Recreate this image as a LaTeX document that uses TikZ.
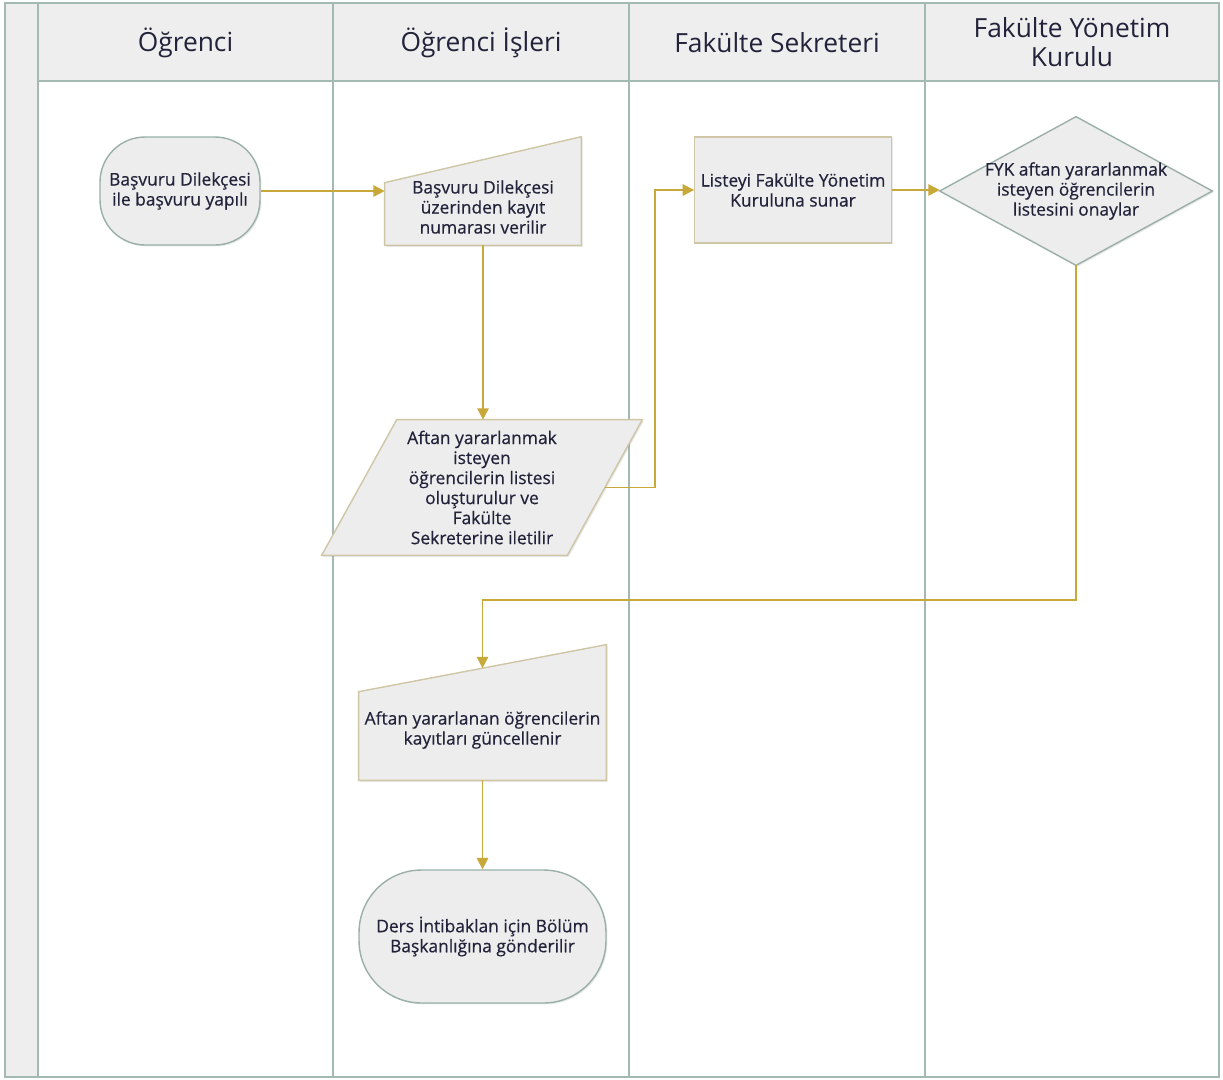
\documentclass[tikz,border=0pt]{standalone}
\usepackage{fontspec}
\setmainfont{Open Sans}
\newfontfamily\nodefont{Open Sans}[FakeBold=0.5]
\usetikzlibrary{calc,arrows.meta,shadows}
\pgfdeclarelayer{lanelayer}
\pgfdeclarelayer{shapelayer}
\pgfsetlayers{lanelayer,shapelayer,main}
\definecolor{lanefill}{HTML}{EEEEEE}
\definecolor{laneline}{HTML}{A3BAB2}
\definecolor{shapefill}{HTML}{EDEDED}
\definecolor{greenborder}{HTML}{9AB0A8}
\definecolor{beigeborder}{HTML}{CFC6A6}
\definecolor{flowcol}{HTML}{C9A83A}
\definecolor{txtcol}{HTML}{22223A}
\tikzset{
  lane/.style={draw=laneline, line width=1.1pt},
  hdr/.style={font=\fontsize{15}{16.5}\selectfont, text=txtcol, align=center},
  txt/.style={font=\nodefont\fontsize{9.9}{11.4}\selectfont, text=txtcol, align=center},
  stadium/.style={txt, draw=greenborder, fill=shapefill, line width=0.8pt,
    drop shadow={opacity=0.18, shadow xshift=0.8pt, shadow yshift=-0.8pt}},
  bbox/.style={txt, inner sep=0pt, draw=none},
  beigeshape/.style={draw=beigeborder, fill=shapefill, line width=0.8pt,
    drop shadow={opacity=0.18, shadow xshift=0.8pt, shadow yshift=-0.8pt}},
  greenshape/.style={draw=greenborder, fill=shapefill, line width=0.8pt,
    drop shadow={opacity=0.18, shadow xshift=0.8pt, shadow yshift=-0.8pt}},
  flow/.style={draw=flowcol, line width=1pt, -{Triangle[length=6.5pt,width=6.5pt]}}
}
\begin{document}
\begin{tikzpicture}[x=0.02cm, y=-0.02cm]
\useasboundingbox (0,0) rectangle (1223,1079);

% ---------- lanes ----------
\begin{pgfonlayer}{lanelayer}
  \fill[white] (0,0) rectangle (1223,1079);
  \fill[lanefill] (5,3) rectangle (38,1077);
  \fill[lanefill] (38,3) rectangle (1219,81);
  \draw[lane] (5,3) rectangle (1219,1077);
  \draw[lane] (38,3) -- (38,1077);
  \draw[lane] (333,3) -- (333,1077);
  \draw[lane] (629,3) -- (629,1077);
  \draw[lane] (925,3) -- (925,1077);
  \draw[lane] (38,81) -- (1219,81);
\end{pgfonlayer}

% ---------- headers ----------
\node[hdr] (h1) at (185.5,43) {Öğrenci};
\node[hdr] (h2) at (481,43) {Öğrenci İşleri};
\node[hdr] (h3) at (777,43) {Fakülte Sekreteri};
\node[hdr, font=\fontsize{15}{16.8}\selectfont] (h4) at (1072,42) {Fakülte Yönetim\\Kurulu};

% ---------- nodes ----------
\node[stadium, rounded corners=0.9cm, minimum width=3.2cm, minimum height=2.16cm]
  (b1) at (180,191) {Başvuru Dilekçesi\\ile başvuru yapılı};

\node[bbox, minimum width=3.92cm, minimum height=2.16cm,
  label={[txt, yshift=-0.32cm]center:Başvuru Dilekçesi\\üzerinden kayıt\\numarası verilir}]
  (b2) at (483,191) {};

\node[txt, draw=beigeborder, fill=shapefill, line width=0.8pt,
  drop shadow={opacity=0.18, shadow xshift=0.8pt, shadow yshift=-0.8pt},
  minimum width=3.92cm, minimum height=2.12cm]
  (b3) at (793,190) {Listeyi Fakülte Yönetim\\Kuruluna sunar};

\node[bbox, minimum width=5.44cm, minimum height=2.96cm]
  (d) at (1076,191) {FYK aftan yararlanmak\\isteyen öğrencilerin\\listesini onaylar};

\node[bbox, minimum width=6.4cm, minimum height=2.7cm]
  (p) at (482,487.5) {Aftan yararlanmak\\isteyen\\öğrencilerin listesi\\oluşturulur ve\\Fakülte\\Sekreterine iletilir};

\node[bbox, minimum width=4.94cm, minimum height=2.7cm,
  label={[txt, yshift=-0.35cm]center:Aftan yararlanan öğrencilerin\\kayıtları güncellenir}]
  (b5) at (482.5,712.5) {};

\node[stadium, rounded corners=1.25cm, minimum width=4.94cm, minimum height=2.66cm]
  (b6) at (482.5,936.5) {Ders İntibaklan için Bölüm\\Başkanlığına gönderilir};

% ---------- shape outlines drawn from node anchors ----------
\begin{pgfonlayer}{shapelayer}
  \path[beigeshape] (b2.south west) -- (b2.south east) -- (b2.north east)
        -- ($(b2.north west)+(0,46)$) -- cycle;
  \path[greenshape] (d.west) -- (d.north) -- (d.east) -- (d.south) -- cycle;
  \path[beigeshape] ($(p.north west)+(75,0)$) -- (p.north east)
        -- ($(p.south east)+(-75,0)$) -- (p.south west) -- cycle;
  \path[beigeshape] (b5.south west) -- (b5.south east) -- (b5.north east)
        -- ($(b5.north west)+(0,47)$) -- cycle;
\end{pgfonlayer}

% ---------- connectors ----------
\coordinate (pout) at ($(p.east)+(-37.5,0)$);
\coordinate (k1) at (655,0);
\coordinate (k2) at (0,600);
\coordinate (b5in) at ($($(b5.north west)+(0,47)$)!0.5!(b5.north east)$);

\draw[flow] (b1.east) -- (b1.east -| b2.west);
\draw[flow] (b2.south) -- (b2.south |- p.north);
\draw[flow] (pout) -| (k1 |- b3.west) -- (b3.west);
\draw[flow] (b3.east) -- (b3.east -| d.west);
\draw[flow] (d.south) -- (d.south |- k2) -| (b5in);
\draw[flow] (b5.south) -- (b6.north);
\end{tikzpicture}
\end{document}
